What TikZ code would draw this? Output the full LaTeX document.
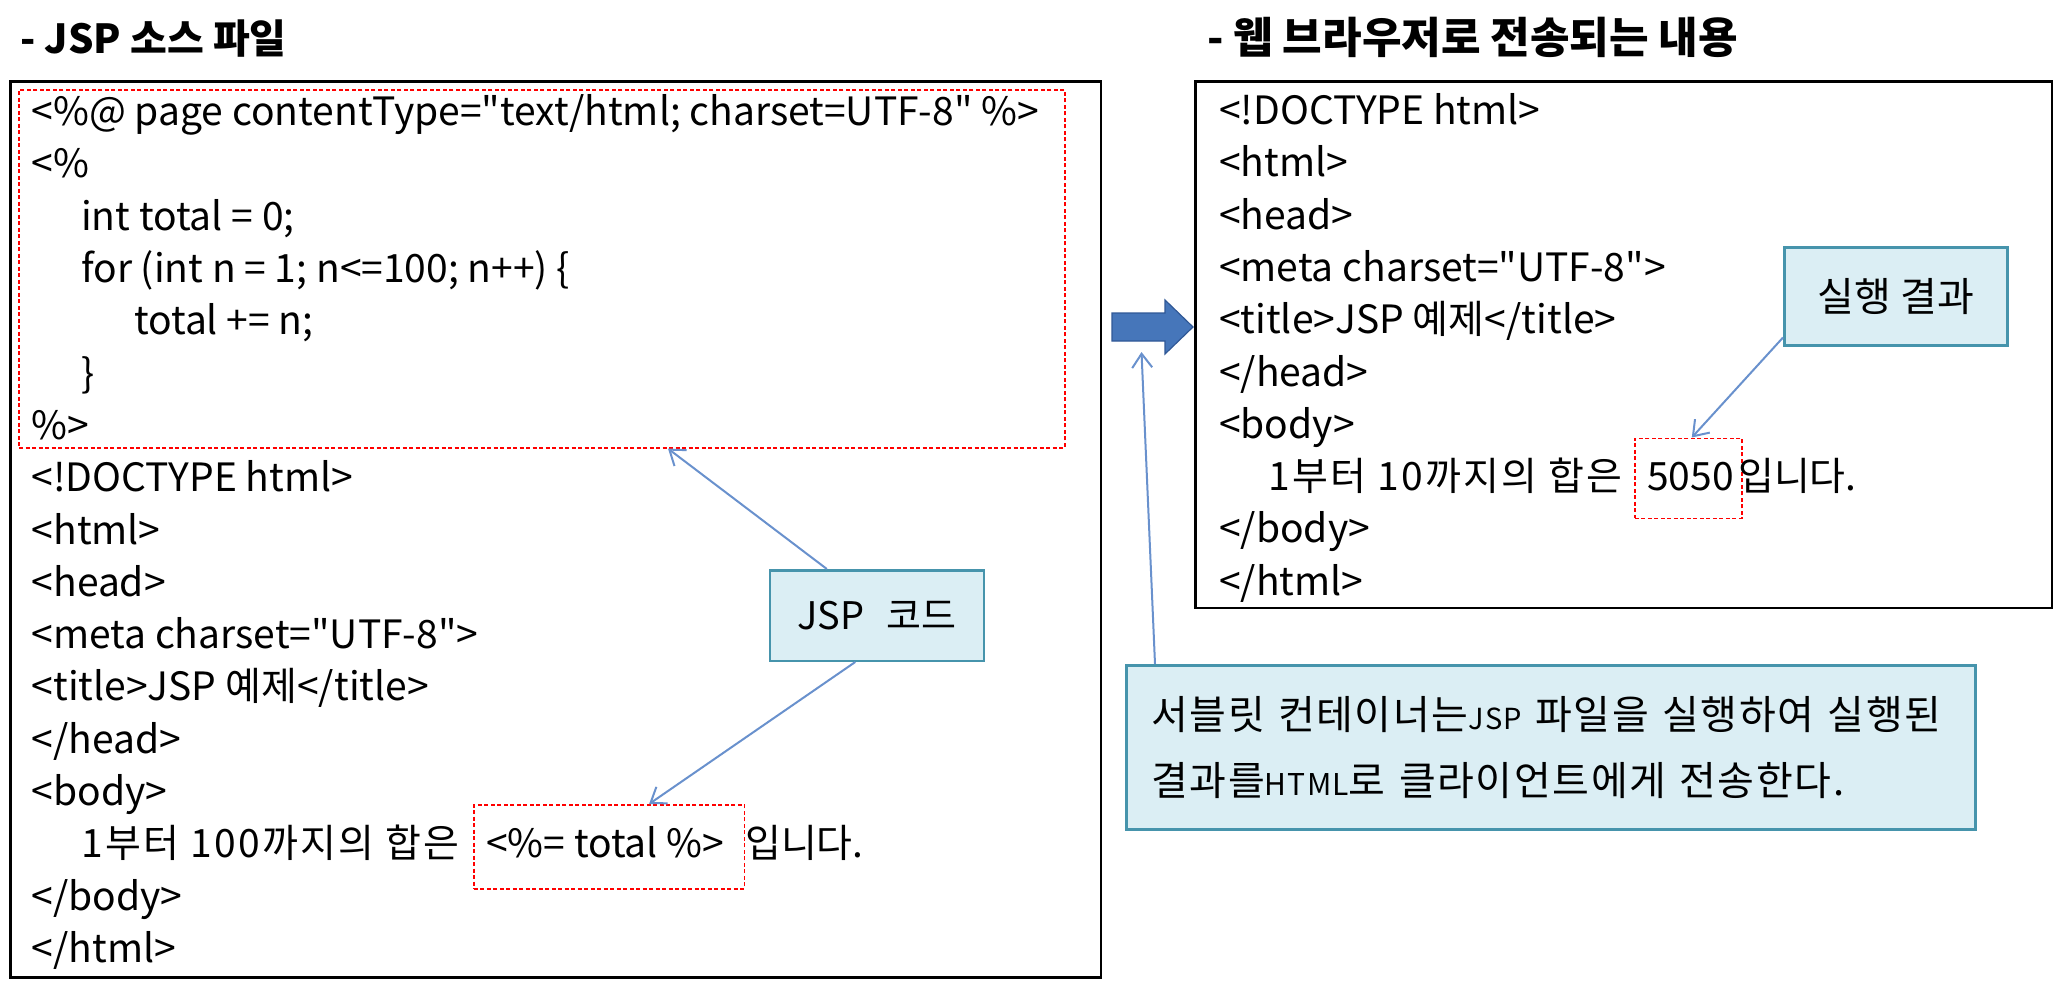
\documentclass[tikz,border=0pt]{standalone}
\usepackage{fontspec}
\setmainfont{Noto Sans CJK KR}
\newfontfamily\krfont{Noto Sans CJK KR}
\newfontfamily\krcode{Noto Sans CJK KR}[LetterSpace=6]
\newfontfamily\krspaced{Noto Sans CJK KR}[LetterSpace=4]
\usetikzlibrary{arrows.meta,calc}
\definecolor{calloutfill}{RGB}{219,238,244}
\definecolor{calloutdraw}{RGB}{70,148,172}
\definecolor{arrowblue}{RGB}{105,145,205}
\definecolor{blockblue}{RGB}{70,118,186}
\definecolor{blockdraw}{RGB}{48,88,150}
\begin{document}
\begin{tikzpicture}[x=1pt,y=-1pt,
  codeline/.style={anchor=base west, inner sep=0pt, font=\krfont\fontsize{39}{48}\selectfont},
  wideline/.style={anchor=base west, inner sep=0pt, font=\krcode\fontsize{39}{48}\selectfont},
  titletext/.style={anchor=base west, inner sep=0pt, font=\bfseries},
  framebox/.style={draw=black, line width=2.5pt},
  reddash/.style={draw=red, line width=1.6pt, dash pattern=on 4pt off 2.5pt},
  callout/.style={draw=calloutdraw, fill=calloutfill, line width=2.5pt},
  callarrow/.style={draw=arrowblue, line width=2pt, -{Straight Barb[length=14pt,width=20pt,line width=2pt]}}
]
\useasboundingbox (0,0) rectangle (2060,990);

% titles
\node[titletext, font=\fontsize{40}{48}\selectfont\bfseries] (ltitle) at (20,54) {- JSP 소스 파일};
\node[titletext, font=\fontsize{43}{50}\selectfont\bfseries] (rtitle) at (1207,54) {- 웹 브라우저로 전송되는 내용};

% frames
\draw[framebox] (10.5,81.5) rectangle (1101,977.5);
\draw[framebox] (1195.6,81.5) rectangle (2052,608);

% red dashed boxes
\node[reddash, minimum width=1045.6pt, minimum height=358pt, anchor=north west, inner sep=0pt] (redtop) at (18.4,89) {};
\node[reddash, minimum width=270.6pt, minimum height=84pt, anchor=north west, inner sep=0pt] (redexpr) at (473,804) {};
\node[reddash, minimum width=107pt, minimum height=80pt, anchor=north west, inner sep=0pt] (redres) at (1634,437.5) {};

% left code
\def\lb{125.6}
\def\ls{52.3}
\node[codeline] (l0) at (31.5,{\lb+0*\ls}) {<\%@ page contentType="text/html; charset=UTF-8" \%>};
\node[codeline] (l1) at (31.5,{\lb+1*\ls}) {<\%};
\node[codeline] (l2) at (81,{\lb+2*\ls}) {int total = 0;};
\node[codeline] (l3) at (81,{\lb+3*\ls}) {for (int n = 1; n<=100; n++) \{};
\node[codeline] (l4) at (134,{\lb+4*\ls}) {total += n;};
\node[codeline] (l5) at (81,{\lb+5*\ls}) {\}};
\node[codeline] (l6) at (31.5,{\lb+6*\ls}) {\%>};
\node[codeline] (l7) at (31.5,{\lb+7*\ls}) {<!DOCTYPE html>};
\node[codeline] (l8) at (31.5,{\lb+8*\ls}) {<html>};
\node[codeline] (l9) at (31.5,{\lb+9*\ls}) {<head>};
\node[codeline] (l10) at (31.5,{\lb+10*\ls}) {<meta charset="UTF-8">};
\node[codeline] (l11) at (31.5,{\lb+11*\ls}) {<title>JSP 예제</title>};
\node[codeline] (l12) at (31.5,{\lb+12*\ls}) {</head>};
\node[codeline] (l13) at (31.5,{\lb+13*\ls}) {<body>};
\node[wideline] (l14a) at (81,{\lb+14*\ls}) {1부터 100까지의 합은};
\node[codeline] (l14b) at (486,{\lb+14*\ls}) {<\%= total \%>};
\node[codeline] (l14c) at (745,{\lb+14*\ls}) {입니다.};
\node[codeline] (l15) at (31.5,{\lb+15*\ls}) {</body>};
\node[codeline] (l16) at (31.5,{\lb+16*\ls}) {</html>};

% right code
\def\rb{124.5}
\def\rs{52.3}
\node[codeline] (r0) at (1219,{\rb+0*\rs}) {<!DOCTYPE html>};
\node[codeline] (r1) at (1219,{\rb+1*\rs}) {<html>};
\node[codeline] (r2) at (1219,{\rb+2*\rs}) {<head>};
\node[codeline] (r3) at (1219,{\rb+3*\rs}) {<meta charset="UTF-8">};
\node[codeline] (r4) at (1219,{\rb+4*\rs}) {<title>JSP 예제</title>};
\node[codeline] (r5) at (1219,{\rb+5*\rs}) {</head>};
\node[codeline] (r6) at (1219,{\rb+6*\rs}) {<body>};
\node[wideline] (r7a) at (1268,{\rb+7*\rs}) {1부터 10까지의 합은};
\node[codeline] (r7b) at (1647,{\rb+7*\rs}) {5050};
\node[codeline] (r7c) at (1738,{\rb+7*\rs}) {입니다.};
\node[codeline] (r8) at (1219,{\rb+8*\rs}) {</body>};
\node[codeline] (r9) at (1219,{\rb+9*\rs}) {</html>};

% callouts
\node[callout, minimum width=214pt, minimum height=90.5pt, anchor=north west, inner sep=0pt,
      font=\fontsize{38}{44}\selectfont] (jspcode) at (768.6,569) {JSP\hspace{22pt}코드};
\node[callout, minimum width=223pt, minimum height=98pt, anchor=north west, inner sep=0pt,
      font=\fontsize{40}{44}\selectfont] (runres) at (1783,246) {실행 결과};
\node[callout, minimum width=849pt, minimum height=164pt, anchor=north west, inner xsep=25pt,
      text width=799pt, align=left, font=\krspaced\fontsize{40}{66}\selectfont] (desc) at (1125,664)
  {서블릿 컨테이너는{\fontsize{29}{29}\selectfont JSP} 파일을 실행하여 실행된\\
   결과를{\fontsize{30}{30}\selectfont HTML}로 클라이언트에게 전송한다.\par\vspace{14pt}};

% block arrow
\draw[fill=blockblue, draw=blockdraw, line width=1.2pt]
  (1112,313) -- (1165,313) -- (1165,300) -- (1193,327) -- (1165,354) -- (1165,341) -- (1112,341) -- cycle;
\coordinate (blkbottom) at (1141.5,352);

% connectors
\draw[callarrow] ([xshift=-50pt]jspcode.north) -- ([xshift=126pt]redtop.south);
\draw[callarrow] ([xshift=-21.6pt]jspcode.south) -- ([xshift=40pt]redexpr.north);
\draw[callarrow] ([yshift=9pt]runres.south west) -- ([xshift=3.5pt]redres.north);
\draw[callarrow] ([xshift=30pt]desc.north west) -- (blkbottom);
\end{tikzpicture}
\end{document}
